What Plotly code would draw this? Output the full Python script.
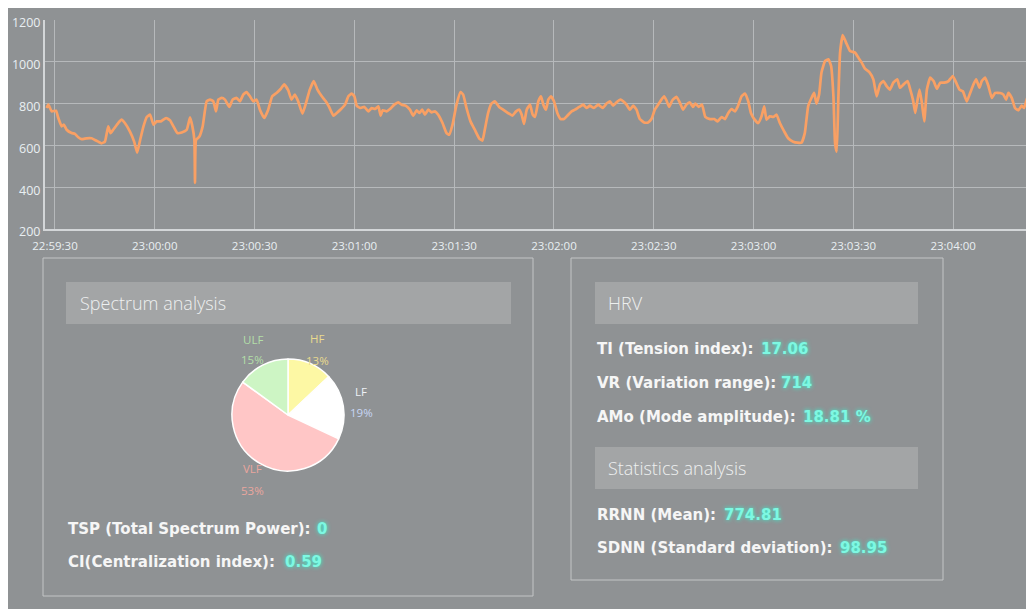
import pandas as pd
import plotly.graph_objects as go

# ---------------- data ----------------
BASE_TIME = "2024-01-01 22:59:30"

t_sec = [-2.5, -2.0, -1.0, 0.3, 1.0, 2.0, 2.7, 3.5, 5.0, 6.0, 7.0, 8.0, 9.5, 11.0, 12.0, 13.0, 14.0, 15.0,
         16.0, 16.7, 17.5, 19.0, 20.0, 21.0, 22.5, 23.8, 24.7, 25.6, 26.6, 27.6, 28.6, 29.6, 30.6, 31.8,
         33.4, 34.6, 35.6, 36.8, 38.1, 39.6, 40.6, 41.3, 41.9, 42.1, 42.4, 43.4, 44.4, 45.6, 46.6, 47.6,
         48.4, 49.1, 50.1, 51.1, 52.4, 53.4, 54.6, 55.6,
         56.6, 57.6, 58.6, 59.6, 60.6, 61.6, 62.9, 64.1, 65.3, 66.6, 67.9, 68.9, 70.1, 71.1, 72.1, 73.1,
         74.4, 75.6, 76.6, 77.8, 78.9, 80.2, 81.4, 82.4, 83.7, 84.7, 86.0, 87.2, 88.2, 89.2, 90.0, 90.7,
         91.7, 93.0, 94.2, 95.2, 96.2, 97.2, 97.9, 98.5, 99.7, 100.7, 102.0, 103.2, 104.2, 105.4, 106.7,
         107.7, 108.7, 109.5, 110.4, 111.2, 112.2, 113.2, 114.2,
         115.2, 116.5, 117.7, 118.5, 119.5, 120.7, 121.9, 122.7, 123.7, 124.9, 126.2, 127.5, 128.5, 129.2,
         130.2, 131.2, 132.2, 133.5, 134.7, 136.2, 137.5, 138.6, 139.6, 140.3, 141.0, 141.8, 142.8, 143.6,
         144.3, 145.3, 146.1, 146.8, 147.6, 148.3, 149.1, 150.0, 151.0, 152.0, 153.0, 154.0, 155.3, 156.3,
         157.6, 158.8, 159.8, 160.8, 162.0, 163.3, 164.6, 165.8, 166.8, 167.8, 168.8, 170.0, 170.8, 171.8,
         172.8,
         173.8, 174.8, 175.8, 177.1, 178.3, 179.3, 180.3, 181.3, 182.3, 183.1, 183.8, 184.6, 185.6, 186.8,
         187.8, 188.8, 189.8, 190.8, 191.8, 192.5, 193.5, 194.5, 195.5, 196.9, 198.2, 199.2, 200.4, 201.4,
         202.4, 203.4, 204.4, 205.2, 206.4, 207.4, 208.4, 209.2, 210.2, 211.4, 212.4, 213.2, 213.9, 214.9,
         215.9, 216.9, 217.9, 219.2, 220.4, 221.9, 223.2, 224.4, 225.4, 226.4, 227.4, 228.2, 228.9, 229.7,
         230.4,
         231.5, 232.5, 233.3, 234.0, 234.5, 235.0, 235.5, 236.0, 236.8, 237.8, 239.0, 240.5, 241.5, 242.5,
         243.5, 244.8, 246.0, 247.0, 248.0, 249.0, 250.0, 251.0, 252.0, 253.2, 254.0, 255.1, 256.3, 257.1,
         257.9, 258.6, 259.3, 259.9, 260.6, 261.3, 262.1, 263.1, 264.1, 265.1, 266.1, 267.3, 268.6, 269.9,
         270.9, 271.9, 272.9, 274.1, 275.1, 276.1, 276.9, 277.9, 278.6, 279.6, 280.6, 281.6, 282.6, 284.1,
         285.1, 285.9, 286.6, 287.6, 288.6, 289.6, 290.6, 291.3, 292.1, 292.9, 293.6, 294.3]

rr_ms = [779, 795, 763, 766, 731, 691, 699, 675, 659, 655, 639, 630, 634, 634, 626, 618, 610, 618,
         691, 659, 675, 707, 723, 707, 667, 618, 565, 626, 691, 736, 747, 699, 715, 715,
         731, 720, 691, 659, 662, 675, 734, 691, 626, 420, 626, 642, 691, 811, 819, 811,
         763, 819, 827, 819, 784, 819, 827, 811,
         843, 855, 835, 811, 819, 771, 731, 771, 835, 851, 871, 892, 864, 819, 843, 811,
         752, 811, 867, 908, 867, 835, 811, 784, 742, 755, 774, 795, 835, 848, 835, 790,
         779, 784, 763, 779, 774, 787, 742, 768, 763, 774, 795, 806, 795, 790, 771,
         742, 768, 755, 771, 747, 771, 758, 763,
         747, 707, 659, 651, 699, 795, 855, 843, 779, 715, 675, 634, 623, 675,
         755, 800, 811, 784, 771, 755, 742, 763, 771, 747, 703, 771, 795, 747,
         736, 811, 835, 795, 771, 819, 835, 811, 755, 726, 726, 742, 763, 771,
         784, 795, 779, 790, 779, 795, 779, 800, 811, 790, 806, 819, 811, 795,
         771,
         790, 771, 726, 710, 710, 726, 771, 795, 819, 835, 816, 784, 816, 832,
         806, 771, 795, 806, 784, 800, 784, 795, 736, 726, 726, 715, 736, 726,
         755, 774, 763, 784, 835, 848, 811, 755, 726, 707, 739, 787, 723, 739,
         736, 747, 707, 667, 634, 618, 613, 613, 659, 787, 827, 851, 800, 843,
         948,
         1004, 1012, 980, 835, 610, 570, 835, 1044, 1128, 1092, 1052, 1044, 1020, 996,
         967, 951, 916, 835, 892, 908, 884, 867, 900, 916, 876, 892, 908, 867,
         819, 755, 819, 867, 803, 715, 867, 924, 908, 871, 900, 900, 908, 932,
         900, 867, 859, 811, 851, 892, 916, 876, 908, 924, 884, 827, 851, 851,
         843, 819, 851, 827, 779, 768, 790, 779, 819, 851, 827, 787]

y_ticks = [200, 400, 600, 800, 1000, 1200]

spectrum_labels = ["HF", "LF", "VLF", "ULF"]
spectrum_pct = [13, 19, 53, 15]

spec_labels = ["TSP (Total Spectrum Power):", "CI(Centralization index):"]
spec_values = ["0", "0.59"]
hrv_labels = ["TI (Tension index):", "VR (Variation range):", "AMo (Mode amplitude):"]
hrv_values = ["17.06", "714", "18.81 %"]
stat_labels = ["RRNN (Mean):", "SDNN (Standard deviation):"]
stat_values = ["774.81", "98.95"]
panel_titles = ["Spectrum analysis", "HRV", "Statistics analysis"]

# ---------------- style ----------------
W, H = 1034, 609
BG = "#8f9294"
GRID = "#b6b9bb"
AXIS = "#d3d6d8"
TICK_COL = "#e9eff2"
LINE_COL = "#f9a064"
HEADER_FILL = "#a3a5a6"
PANEL_LINE = "#c3c5c6"
TEXT_COL = "#f6f6f6"
VALUE_COL = "#7ef8e2"
SLICE_COLORS = ["#fdf8a4", "#ffffff", "#ffc6c6", "#cdf5c4"]
LABEL_COLORS = {"HF": ("#eadb8e", "#eadb8e"), "LF": ("#eef1f6", "#c7d6f4"),
                "VLF": ("#eaa69e", "#eaa69e"), "ULF": ("#b3dfa8", "#b3dfa8")}
# (x, y of name, y of percentage) in figure pixels
LABEL_POS = {"HF": (309, 330, 352), "LF": (353, 383, 404),
             "VLF": (245, 460, 482), "ULF": (245, 331, 351)}


def px(x):
    return x / W


def py(y):
    return 1 - y / H


times = [pd.Timestamp(BASE_TIME) + pd.Timedelta(seconds=s) for s in t_sec]
x_start = pd.Timestamp(BASE_TIME) + pd.Timedelta(seconds=-3.0)
x_end = pd.Timestamp(BASE_TIME) + pd.Timedelta(seconds=296.7)

fig = go.Figure()
fig.add_trace(go.Scatter(x=times, y=rr_ms, mode="lines",
                         line=dict(color=LINE_COL, width=2.7, shape="spline", smoothing=0.4),
                         hoverinfo="skip", showlegend=False))

# pie: centre (280, 407), radius 56 px
cx, cy, r = 280, 407, 56
fig.add_trace(go.Pie(values=spectrum_pct, labels=spectrum_labels, sort=False,
                     direction="clockwise", rotation=0, textinfo="none", hoverinfo="skip",
                     marker=dict(colors=SLICE_COLORS, line=dict(color="#ffffff", width=1.5)),
                     domain=dict(x=[px(cx - r), px(cx + r)], y=[py(cy + r), py(cy - r)]),
                     showlegend=False))

shapes = []
for (x0, y0, x1, y1) in [(35, 250, 525, 588), (563, 250, 935, 572)]:
    shapes.append(dict(type="rect", xref="paper", yref="paper", x0=px(x0), x1=px(x1),
                       y0=py(y1), y1=py(y0), line=dict(color=PANEL_LINE, width=1),
                       fillcolor="rgba(0,0,0,0)", layer="below"))
header_boxes = [(58, 274, 503, 316), (587, 274, 910, 316), (587, 439, 910, 481)]
for (x0, y0, x1, y1) in header_boxes:
    shapes.append(dict(type="rect", xref="paper", yref="paper", x0=px(x0), x1=px(x1),
                       y0=py(y1), y1=py(y0), line=dict(width=0), fillcolor=HEADER_FILL,
                       layer="below"))

ann = []
title_pos = [(70, 295), (598, 295), (598, 460)]
for title, (x, y) in zip(panel_titles, title_pos):
    ann.append(dict(text=title, x=px(x), y=py(y), xref="paper", yref="paper",
                    xanchor="left", yanchor="middle", showarrow=False,
                    font=dict(family="Open Sans", size=18, color="#eef0f0", weight=300)))

# pie labels
for lab, pct in zip(spectrum_labels, spectrum_pct):
    x, y1, y2 = LABEL_POS[lab]
    c1, c2 = LABEL_COLORS[lab]
    ann.append(dict(text=lab, x=px(x), y=py(y1), xref="paper", yref="paper",
                    xanchor="center", yanchor="middle", showarrow=False,
                    font=dict(family="Open Sans", size=11.5, color=c1)))
    ann.append(dict(text=f"{pct}%", x=px(x), y=py(y2), xref="paper", yref="paper",
                    xanchor="center", yanchor="middle", showarrow=False,
                    font=dict(family="Open Sans", size=11.5, color=c2)))

label_font = dict(family="DejaVu Sans", size=15, color=TEXT_COL, weight="bold")
value_font = dict(family="DejaVu Sans", size=15, color=VALUE_COL, weight="bold",
                  shadow="0px 0px 4px #34f5d0")

rows = [
    (spec_labels, spec_values, 58, [521, 554], [307, 275]),
    (hrv_labels, hrv_values, 587, [341, 375, 409], [751, 771, 793]),
    (stat_labels, stat_values, 587, [507, 540], [714, 830]),
]
for labels, values, lx, ys, vxs in rows:
    for lab, val, y, vx in zip(labels, values, ys, vxs):
        ann.append(dict(text=lab, x=px(lx), y=py(y), xref="paper", yref="paper",
                        xanchor="left", yanchor="middle", showarrow=False, font=label_font))
        ann.append(dict(text=val, x=px(vx), y=py(y), xref="paper", yref="paper",
                        xanchor="left", yanchor="middle", showarrow=False, font=value_font))

fig.update_layout(
    template="none",
    width=W, height=H, autosize=False,
    margin=dict(l=0, r=0, t=0, b=0, pad=0, autoexpand=False),
    paper_bgcolor=BG, plot_bgcolor=BG,
    showlegend=False,
    shapes=shapes, annotations=ann,
    xaxis=dict(domain=[px(37), 1.0], range=[x_start, x_end], type="date", automargin=False,
               tick0=pd.Timestamp(BASE_TIME), dtick=30000, tickformat="%H:%M:%S",
               showgrid=True, gridcolor=GRID, gridwidth=1, zeroline=False,
               showline=True, linecolor=AXIS, linewidth=2, ticks="", ticklabelstandoff=5,
               tickfont=dict(family="Open Sans", size=11.5, color=TICK_COL)),
    yaxis=dict(domain=[py(221), py(12)], range=[200, 1200], tickvals=y_ticks, automargin=False,
               showgrid=True, gridcolor=GRID, gridwidth=1, zeroline=False,
               showline=True, linecolor=AXIS, linewidth=2, ticks="", ticklabelshift=3,
               tickfont=dict(family="Open Sans", size=12.5, color=TICK_COL)),
)

fig.write_html("out.html")
